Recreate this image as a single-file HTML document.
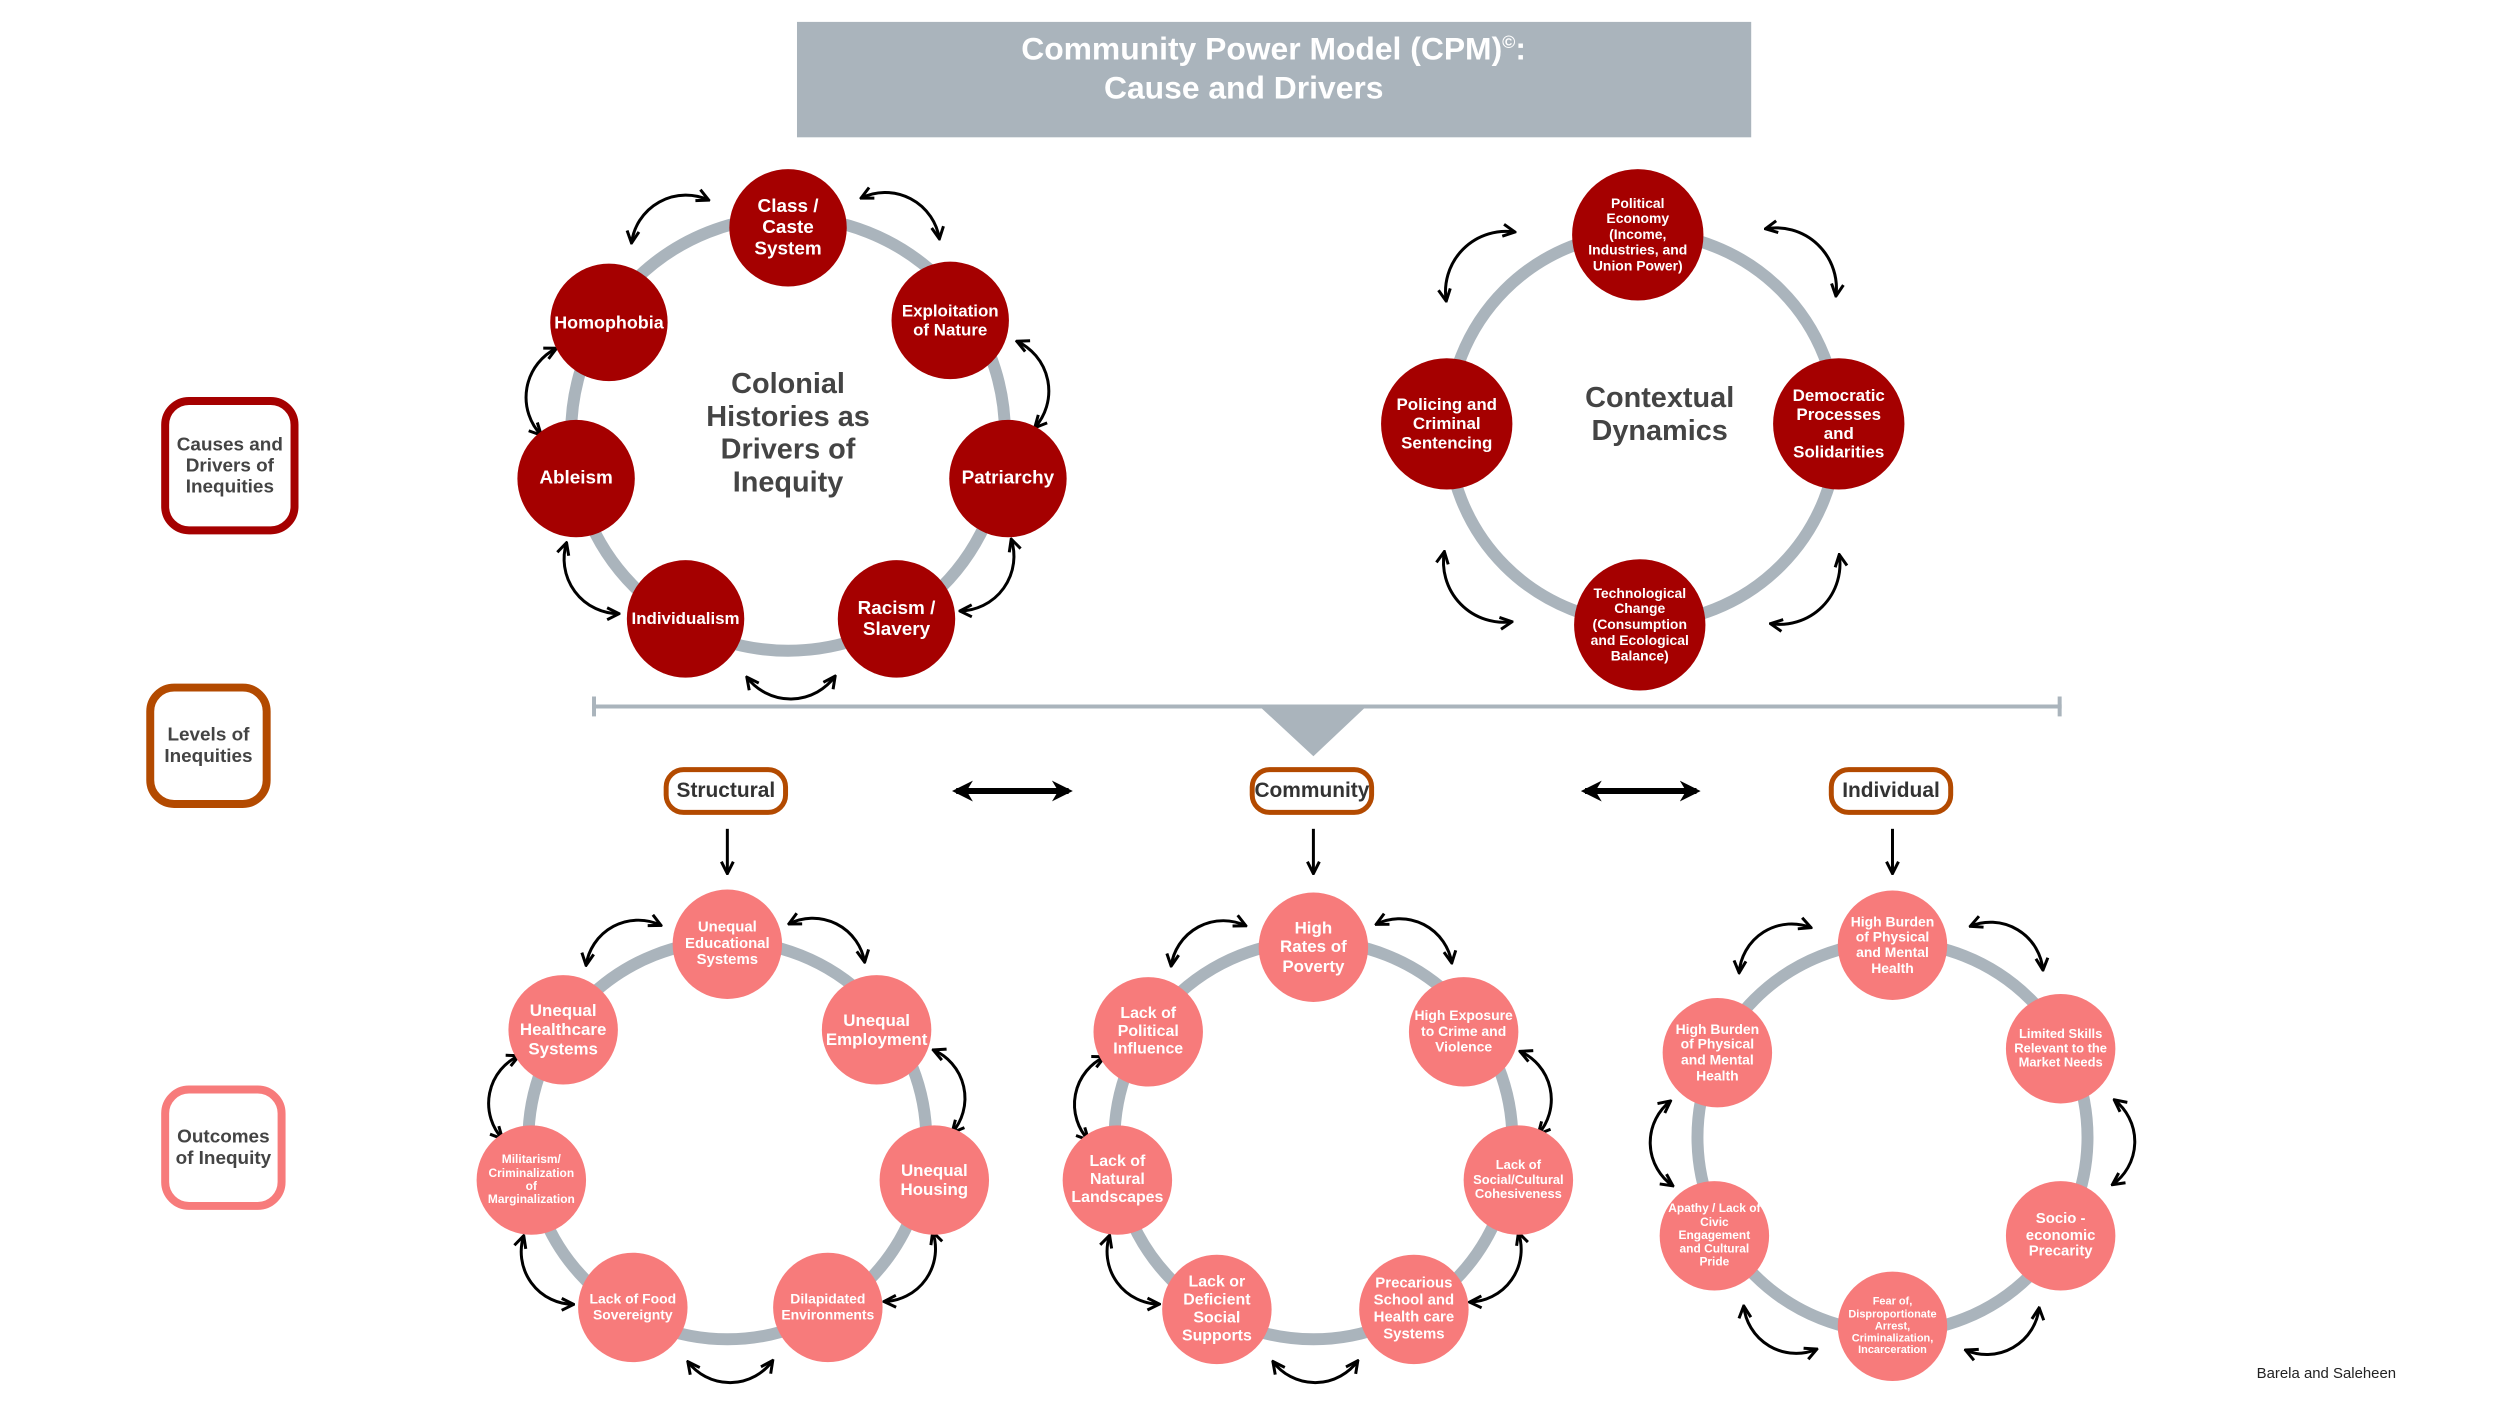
<!DOCTYPE html>
<html><head><meta charset="utf-8"><style>
html,body{margin:0;padding:0;background:#fff;overflow:hidden;}
#w{position:relative;width:2500px;height:1406px;overflow:hidden;font-family:"Liberation Sans",sans-serif;transform:scale(0.995);transform-origin:0 0;}
svg{position:absolute;left:0;top:0;}
.n{position:absolute;border-radius:50%;display:flex;align-items:center;justify-content:center;text-align:center;color:#fff;font-weight:bold;font-family:"Liberation Sans Narrow","Liberation Sans",sans-serif;line-height:1.12;}
.d{background:#a50000;}
.s{background:#f77b7b;}
.box{position:absolute;background:#fff;display:flex;align-items:center;justify-content:center;text-align:center;color:#444;font-weight:bold;box-sizing:border-box;}
.pill{position:absolute;background:#fff;border:5px solid #b34a00;border-radius:20px;box-sizing:border-box;display:flex;align-items:center;justify-content:center;color:#333;font-weight:bold;font-size:21px;font-family:"Liberation Sans Narrow","Liberation Sans",sans-serif;}
.ct{position:absolute;text-align:center;color:#444;font-weight:bold;font-size:29px;line-height:33px;}
</style></head><body><div id="w">
<svg id="sv" width="2500" height="1406" viewBox="0 0 2500 1406">
<defs><marker id="ah" viewBox="0 0 10 10" refX="9" refY="5" markerWidth="5" markerHeight="5" orient="auto-start-reverse" markerUnits="strokeWidth"><path d="M1,1 L9,5 L1,9" fill="none" stroke="#000" stroke-width="2"/></marker>
<marker id="ah2" viewBox="0 0 10 10" refX="8" refY="5" markerWidth="3.5" markerHeight="3.5" orient="auto-start-reverse" markerUnits="strokeWidth"><path d="M0,0 L10,5 L0,10 L3,5 Z" fill="#000"/></marker></defs>
<rect x="801" y="22" width="959" height="116" fill="#aab4bc"/>
<circle cx="792" cy="436" r="218" fill="none" stroke="#aab4bc" stroke-width="12"/>
<circle cx="1651" cy="430" r="196" fill="none" stroke="#aab4bc" stroke-width="12"/>
<circle cx="731" cy="1146" r="200" fill="none" stroke="#aab4bc" stroke-width="12"/>
<circle cx="1320" cy="1146" r="200" fill="none" stroke="#aab4bc" stroke-width="12"/>
<circle cx="1902" cy="1143" r="196" fill="none" stroke="#aab4bc" stroke-width="12"/>
<line x1="595" y1="710" x2="2072" y2="710" stroke="#aab4bc" stroke-width="4"/>
<line x1="597" y1="700" x2="597" y2="720" stroke="#aab4bc" stroke-width="4"/>
<line x1="2070" y1="700" x2="2070" y2="720" stroke="#aab4bc" stroke-width="4"/>
<polygon points="1266,710 1373,710 1320,760" fill="#aab4bc"/>
<g stroke="#000" stroke-width="4" fill="none">
<line x1="961" y1="795" x2="1074" y2="795" marker-start="url(#ah2)" marker-end="url(#ah2)" stroke-width="6"/>
<line x1="1593" y1="795" x2="1705" y2="795" marker-start="url(#ah2)" marker-end="url(#ah2)" stroke-width="6"/>
<line x1="731" y1="833" x2="731" y2="878" marker-end="url(#ah)" stroke-width="3"/>
<line x1="1320" y1="833" x2="1320" y2="878" marker-end="url(#ah)" stroke-width="3"/>
<line x1="1902" y1="833" x2="1902" y2="878" marker-end="url(#ah)" stroke-width="3"/>
</g>
<text x="1280" y="60" text-anchor="middle" fill="#fff" font-weight="bold" font-size="32" font-family="Liberation Sans, sans-serif">Community Power Model (CPM)<tspan font-size="18" dy="-12">©</tspan><tspan dy="12">:</tspan></text>
<text x="1250" y="99" text-anchor="middle" fill="#fff" font-weight="bold" font-size="32" font-family="Liberation Sans, sans-serif">Cause and Drivers</text>
<g id="arrows" stroke="#000" stroke-width="3" fill="none"></g>
</svg>

<div class="box" style="left:162px;top:399px;width:138px;height:138px;border:8px solid #a50000;border-radius:28px;font-size:19px;line-height:21px;">Causes and<br>Drivers of<br>Inequities</div>
<div class="box" style="left:147px;top:687px;width:125px;height:125px;border:8px solid #b34a00;border-radius:28px;font-size:19px;line-height:22px;">Levels of<br>Inequities</div>
<div class="box" style="left:162px;top:1091px;width:125px;height:125px;border:8px solid #f77b7b;border-radius:28px;font-size:19px;line-height:22px;">Outcomes<br>of Inequity</div>

<div class="pill" style="left:667px;top:771px;width:125px;height:48px;">Structural</div>
<div class="pill" style="left:1256px;top:771px;width:125px;height:48px;">Community</div>
<div class="pill" style="left:1838px;top:771px;width:125px;height:48px;">Individual</div>

<div class="ct" style="left:642px;top:370px;width:300px;">Colonial<br>Histories as<br>Drivers of<br>Inequity</div>
<div class="ct" style="left:1518px;top:384px;width:300px;">Contextual<br>Dynamics</div>

<div class="n d" style="left:733px;top:170px;width:118px;height:118px;font-size:19px;">Class /<br>Caste<br>System</div>
<div class="n d" style="left:553px;top:265px;width:118px;height:118px;font-size:18px;">Homophobia</div>
<div class="n d" style="left:896px;top:263px;width:118px;height:118px;font-size:17px;">Exploitation<br>of Nature</div>
<div class="n d" style="left:520px;top:422px;width:118px;height:118px;font-size:19px;">Ableism</div>
<div class="n d" style="left:954px;top:422px;width:118px;height:118px;font-size:19px;">Patriarchy</div>
<div class="n d" style="left:630px;top:563px;width:118px;height:118px;font-size:17px;">Individualism</div>
<div class="n d" style="left:842px;top:563px;width:118px;height:118px;font-size:19px;">Racism /<br>Slavery</div>

<div class="n d" style="left:1580px;top:170px;width:132px;height:132px;font-size:14px;">Political<br>Economy<br>(Income,<br>Industries, and<br>Union Power)</div>
<div class="n d" style="left:1388px;top:360px;width:132px;height:132px;font-size:17px;">Policing and<br>Criminal<br>Sentencing</div>
<div class="n d" style="left:1782px;top:360px;width:132px;height:132px;font-size:17px;">Democratic<br>Processes<br>and<br>Solidarities</div>
<div class="n d" style="left:1582px;top:562px;width:132px;height:132px;font-size:14px;">Technological<br>Change<br>(Consumption<br>and Ecological<br>Balance)</div>

<div class="n s" style="left:676px;top:894px;width:110px;height:110px;font-size:15px;">Unequal<br>Educational<br>Systems</div>
<div class="n s" style="left:511px;top:980px;width:110px;height:110px;font-size:17px;">Unequal<br>Healthcare<br>Systems</div>
<div class="n s" style="left:826px;top:980px;width:110px;height:110px;font-size:17px;">Unequal<br>Employment</div>
<div class="n s" style="left:479px;top:1131px;width:110px;height:110px;font-size:12px;">Militarism/<br>Criminalization<br>of<br>Marginalization</div>
<div class="n s" style="left:884px;top:1131px;width:110px;height:110px;font-size:17px;">Unequal<br>Housing</div>
<div class="n s" style="left:581px;top:1259px;width:110px;height:110px;font-size:14px;">Lack of Food<br>Sovereignty</div>
<div class="n s" style="left:777px;top:1259px;width:110px;height:110px;font-size:14px;">Dilapidated<br>Environments</div>

<div class="n s" style="left:1265px;top:897px;width:110px;height:110px;font-size:17px;">High<br>Rates of<br>Poverty</div>
<div class="n s" style="left:1099px;top:982px;width:110px;height:110px;font-size:16px;">Lack of<br>Political<br>Influence</div>
<div class="n s" style="left:1416px;top:982px;width:110px;height:110px;font-size:14px;">High Exposure<br>to Crime and<br>Violence</div>
<div class="n s" style="left:1068px;top:1131px;width:110px;height:110px;font-size:16px;">Lack of<br>Natural<br>Landscapes</div>
<div class="n s" style="left:1471px;top:1131px;width:110px;height:110px;font-size:13px;">Lack of<br>Social/Cultural<br>Cohesiveness</div>
<div class="n s" style="left:1168px;top:1261px;width:110px;height:110px;font-size:16px;">Lack or<br>Deficient<br>Social<br>Supports</div>
<div class="n s" style="left:1366px;top:1261px;width:110px;height:110px;font-size:15px;">Precarious<br>School and<br>Health care<br>Systems</div>

<div class="n s" style="left:1847px;top:895px;width:110px;height:110px;font-size:14px;">High Burden<br>of Physical<br>and Mental<br>Health</div>
<div class="n s" style="left:1671px;top:1003px;width:110px;height:110px;font-size:14px;">High Burden<br>of Physical<br>and Mental<br>Health</div>
<div class="n s" style="left:2016px;top:999px;width:110px;height:110px;font-size:13px;">Limited Skills<br>Relevant to the<br>Market Needs</div>
<div class="n s" style="left:1668px;top:1187px;width:110px;height:110px;font-size:12px;">Apathy / Lack of<br>Civic<br>Engagement<br>and Cultural<br>Pride</div>
<div class="n s" style="left:2016px;top:1187px;width:110px;height:110px;font-size:15px;">Socio -<br>economic<br>Precarity</div>
<div class="n s" style="left:1847px;top:1278px;width:110px;height:110px;font-size:11px;">Fear of,<br>Disproportionate<br>Arrest,<br>Criminalization,<br>Incarceration</div>

<div style="position:absolute;left:2268px;top:1372px;font-size:15px;color:#222;">Barela and Saleheen</div>
</div>
<script>
var groups=[
 {c:[792,436],R:248,span:0.36,n:[[792,229],[612,324],[955,322],[579,481],[1013,481],[689,622],[901,622]]},
 {c:[1651,430],R:235,span:0.42,n:[[1646,236],[1454,426],[1848,426],[1648,628]]},
 {c:[731,1146],R:226,span:0.38,n:[[731,949],[566,1035],[881,1035],[534,1186],[939,1186],[636,1314],[832,1314]]},
 {c:[1320,1146],R:226,span:0.38,n:[[1320,952],[1154,1037],[1471,1037],[1123,1186],[1526,1186],[1223,1316],[1421,1316]]},
 {c:[1902,1143],R:226,span:0.38,n:[[1902,950],[1726,1058],[2071,1054],[1723,1242],[2071,1242],[1902,1333]]}
];
var g=document.getElementById('arrows'),ns='http://www.w3.org/2000/svg';
groups.forEach(function(G){
 var a=G.n.map(function(p){return Math.atan2(p[1]-G.c[1],p[0]-G.c[0]);}).sort(function(x,y){return x-y;});
 for(var i=0;i<a.length;i++){
  var a1=a[i],a2=(i+1<a.length)?a[i+1]:a[0]+2*Math.PI,m=(a1+a2)/2;
  var s=m-G.span/2,e=m+G.span/2;
  var x1=G.c[0]+G.R*Math.cos(s),y1=G.c[1]+G.R*Math.sin(s),x2=G.c[0]+G.R*Math.cos(e),y2=G.c[1]+G.R*Math.sin(e);
  var ch=Math.hypot(x2-x1,y2-y1),r=ch*0.62;
  var p=document.createElementNS(ns,'path');
  p.setAttribute('d','M'+x1+','+y1+' A'+r+','+r+' 0 0 1 '+x2+','+y2);
  p.setAttribute('marker-start','url(#ah)');p.setAttribute('marker-end','url(#ah)');
  g.appendChild(p);
 }
});
</script>
</body></html>
